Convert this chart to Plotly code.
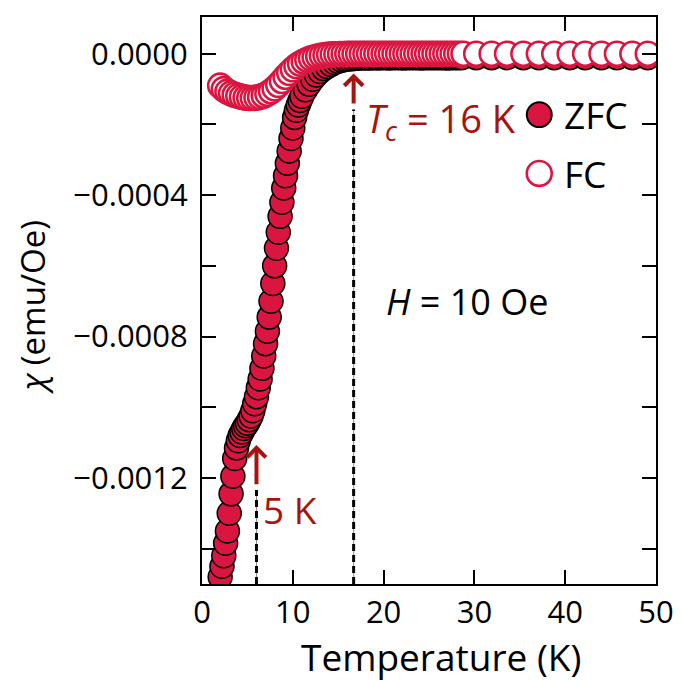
import plotly.graph_objects as go

# ---------------- data ----------------
zfc_T = [2.0, 2.2, 2.4, 2.6, 2.8, 3.0, 3.2, 3.4, 3.6, 3.8,
         4.0, 4.2, 4.4, 4.6, 4.8, 5.0, 5.2, 5.4, 5.6, 5.8,
         6.0, 6.2, 6.4, 6.6, 6.8, 7.0, 7.2, 7.4, 7.6, 7.8,
         8.0, 8.2, 8.4, 8.6, 8.8, 9.0, 9.2, 9.4, 9.6, 9.8,
         10.0, 10.2, 10.4, 10.6, 10.8, 11.0,
         11.4, 11.8, 12.2, 12.6, 13.0, 13.4, 13.8, 14.2, 14.6, 15.0,
         15.4, 15.8, 16.2, 16.6, 17.0, 17.4, 17.8, 18.2, 18.6, 19.0,
         19.4, 19.8, 20.2, 20.6, 21.0, 21.4, 21.8, 22.2, 22.6, 23.0,
         23.4, 23.8, 24.2, 24.6, 25.0, 25.4, 25.8, 26.2, 26.6, 27.0,
         27.4, 27.8, 28.2, 28.6,
         30.2, 31.9, 33.6, 35.4, 37.1, 38.8, 40.5, 42.2, 44.0, 45.7, 47.4, 49.1]

zfc_chi = [-14.8e-4, -14.5e-4, -14.2e-4, -13.85e-4, -13.5e-4, -13.0e-4, -12.45e-4, -11.95e-4, -11.45e-4, -11.15e-4,
           -10.95e-4, -10.8e-4, -10.7e-4, -10.6e-4, -10.52e-4, -10.45e-4, -10.35e-4, -10.25e-4, -10.1e-4, -9.9e-4,
           -9.7e-4, -9.45e-4, -9.2e-4, -8.9e-4, -8.55e-4, -8.2e-4, -7.85e-4, -7.45e-4, -7.0e-4, -6.5e-4,
           -6.0e-4, -5.5e-4, -5.05e-4, -4.6e-4, -4.2e-4, -3.8e-4, -3.45e-4, -3.1e-4, -2.75e-4, -2.4e-4,
           -2.1e-4, -1.8e-4, -1.6e-4, -1.45e-4, -1.32e-4, -1.2e-4,
           -1.02e-4, -0.86e-4, -0.72e-4, -0.6e-4, -0.5e-4, -0.42e-4, -0.36e-4, -0.3e-4, -0.25e-4, -0.21e-4,
           -0.18e-4, -0.16e-4, -0.15e-4, -0.14e-4, -0.13e-4, -0.12e-4, -0.12e-4, -0.12e-4, -0.12e-4, -0.11e-4,
           -0.12e-4, -0.11e-4, -0.11e-4, -0.12e-4, -0.11e-4, -0.11e-4, -0.11e-4, -0.12e-4, -0.11e-4, -0.11e-4,
           -0.11e-4, -0.11e-4, -0.12e-4, -0.11e-4, -0.11e-4, -0.11e-4, -0.11e-4, -0.11e-4, -0.11e-4, -0.12e-4,
           -0.11e-4, -0.11e-4, -0.11e-4, -0.11e-4,
           -0.11e-4, -0.11e-4, -0.11e-4, -0.11e-4, -0.11e-4, -0.11e-4, -0.11e-4, -0.11e-4, -0.11e-4, -0.11e-4, -0.11e-4, -0.11e-4]

fc_T = [2.0, 2.4, 2.8, 3.2, 3.6, 4.0, 4.4, 4.8, 5.2, 5.6,
        6.0, 6.4, 6.8, 7.2, 7.6, 8.0, 8.4, 8.8, 9.2, 9.6,
        10.0, 10.4, 10.8, 11.2, 11.6, 12.0, 12.4, 12.8, 13.2, 13.6,
        14.0, 14.4, 14.8, 15.2, 15.6, 16.0, 16.4, 16.8, 17.2, 17.6,
        18.0, 18.4, 18.8, 19.2, 19.6, 20.0, 20.4, 20.8, 21.2, 21.6,
        22.0, 22.4, 22.8, 23.2, 23.6, 24.0, 24.4, 24.8, 25.2, 25.6,
        26.0, 26.4, 26.8, 27.2, 27.6, 28.0, 28.4, 28.8,
        30.2, 31.9, 33.6, 35.4, 37.1, 38.8, 40.5, 42.2, 44.0, 45.7, 47.4, 49.1]

fc_chi = [-0.9e-4, -1.0e-4, -1.07e-4, -1.12e-4, -1.16e-4, -1.19e-4, -1.22e-4, -1.24e-4, -1.25e-4, -1.25e-4,
          -1.24e-4, -1.22e-4, -1.18e-4, -1.13e-4, -1.06e-4, -0.98e-4, -0.88e-4, -0.77e-4, -0.65e-4, -0.54e-4,
          -0.44e-4, -0.35e-4, -0.28e-4, -0.22e-4, -0.17e-4, -0.13e-4, -0.10e-4, -0.07e-4, -0.05e-4, -0.035e-4,
          -0.025e-4, -0.018e-4, -0.012e-4, -0.008e-4, -0.005e-4, -0.003e-4, -0.002e-4, -0.001e-4, 0.0, 0.0,
          0.0, 0.0, 0.0, 0.0, 0.0, 0.0, 0.0, 0.0, 0.0, 0.0,
          0.0, 0.0, 0.0, 0.0, 0.0, 0.0, 0.0, 0.0, 0.0, 0.0,
          0.0, 0.0, 0.0, 0.0, 0.0, 0.0, 0.0, 0.0,
          0.0, 0.0, 0.0, 0.0, 0.0, 0.0, 0.0, 0.0, 0.0, 0.0, 0.0, 0.0]

x_tickvals = [0, 10, 20, 30, 40, 50]
x_ticktext = ["0", "10", "20", "30", "40", "50"]
y_tickvals = [0.0, -0.0002, -0.0004, -0.0006, -0.0008, -0.0010, -0.0012, -0.0014]
y_ticktext = ["0.0000", " ", "\u22120.0004", " ", "\u22120.0008", " ", "\u22120.0012", " "]

T_low = 6.0      # position of "5 K" marker line
T_c = 16.7       # position of Tc marker line

# ---------------- style ----------------
RED = "#DA1640"
DARKRED = "#A5140E"
FONT = "Open Sans"

fig = go.Figure()

fig.add_trace(go.Scatter(
    x=zfc_T, y=zfc_chi, mode="markers", name="ZFC",
    marker=dict(size=24, color=RED, line=dict(color="black", width=1.5)),
    showlegend=False))
fig.add_trace(go.Scatter(
    x=fc_T, y=fc_chi, mode="markers", name="FC",
    marker=dict(size=24, color="white", line=dict(color=RED, width=2.6)),
    showlegend=False))

YMIN, YMAX = -0.0015, 0.000104

# dashed guide lines (grey thin + black dashes)
for xv, ytop in [(T_low, -1.234e-3), (T_c, -0.158e-3)]:
    fig.add_shape(type="line", x0=xv, x1=xv, y0=YMIN, y1=ytop, xref="x", yref="y",
                  line=dict(color="#8a8a8a", width=1))
    fig.add_shape(type="line", x0=xv, x1=xv, y0=YMIN, y1=ytop, xref="x", yref="y",
                  line=dict(color="black", width=3, dash="7px,4px"))

# arrows
fig.add_annotation(x=T_low, y=-1.107e-3, ax=T_low, ay=-1.222e-3, xref="x", yref="y",
                   axref="x", ayref="y", text="", showarrow=True, arrowhead=4,
                   arrowsize=0.9, arrowwidth=4, arrowcolor=DARKRED)
fig.add_annotation(x=T_c, y=-0.056e-3, ax=T_c, ay=-0.145e-3, xref="x", yref="y",
                   axref="x", ayref="y", text="", showarrow=True, arrowhead=4,
                   arrowsize=0.9, arrowwidth=4, arrowcolor=DARKRED)

# text labels
fig.add_annotation(x=17.8, y=-0.19e-3, xref="x", yref="y", xanchor="left", yanchor="middle",
                   text="<i>T</i><sub><i>c</i></sub> = 16 K", showarrow=False,
                   font=dict(family=FONT, size=38, color=DARKRED))
fig.add_annotation(x=6.5, y=-1.29e-3, xref="x", yref="y", xanchor="left", yanchor="middle",
                   text="5 K", showarrow=False,
                   font=dict(family=FONT, size=37, color=DARKRED))
fig.add_annotation(x=20.0, y=-0.70e-3, xref="x", yref="y", xanchor="left", yanchor="middle",
                   text="<i>H</i> = 10 Oe", showarrow=False,
                   font=dict(family=FONT, size=36, color="black"))

# legend (drawn manually to get large symbols); plot area spans screen px 202..657 x 15..584
def px2paper_x(px):
    return (px - 202) / 455.0

def px2paper_y(py):
    return (584 - py) / 569.0

r = 12.5
for cy, fill, lc, lw in [(113, RED, "black", 2), (172, "white", RED, 2.6)]:
    fig.add_shape(type="circle", xref="paper", yref="paper",
                  x0=px2paper_x(540 - r), x1=px2paper_x(540 + r),
                  y0=px2paper_y(cy + r), y1=px2paper_y(cy - r),
                  fillcolor=fill, line=dict(color=lc, width=lw))
fig.add_annotation(x=px2paper_x(563), y=px2paper_y(113), xref="paper", yref="paper",
                   xanchor="left", yanchor="middle", text="ZFC", showarrow=False,
                   font=dict(family=FONT, size=37, color="black"))
fig.add_annotation(x=px2paper_x(563), y=px2paper_y(172), xref="paper", yref="paper",
                   xanchor="left", yanchor="middle", text="FC", showarrow=False,
                   font=dict(family=FONT, size=37, color="black"))

# axis titles
fig.add_annotation(x=px2paper_x(442), y=px2paper_y(657), xref="paper", yref="paper",
                   xanchor="center", yanchor="middle", text="Temperature (K)", showarrow=False,
                   font=dict(family=FONT, size=37, color="black"))
fig.add_annotation(x=px2paper_x(33), y=px2paper_y(306), xref="paper", yref="paper",
                   xanchor="center", yanchor="middle", text="<i>χ</i> (emu/Oe)", showarrow=False,
                   textangle=-90, font=dict(family=FONT, size=33, color="black"))

axis_common = dict(showline=True, linecolor="black", linewidth=2, mirror="ticks",
                   ticks="inside", ticklen=14, tickwidth=1.6, tickcolor="black",
                   showgrid=False, zeroline=False,
                   tickfont=dict(family=FONT, size=31, color="black"))

fig.update_xaxes(range=[0, 50], tickmode="array", tickvals=x_tickvals, ticktext=x_ticktext,
                 **axis_common)
fig.update_yaxes(range=[YMIN, YMAX], tickmode="array", tickvals=y_tickvals, ticktext=y_ticktext,
                 ticklabelstandoff=6, **axis_common)

# the page adds an 8px body margin, so the figure is 673px and margins are offset accordingly
fig.update_layout(width=673, height=673, autosize=False,
                  margin=dict(l=194, r=24, t=7, b=97),
                  plot_bgcolor="white", paper_bgcolor="white",
                  font=dict(family=FONT))

fig.write_html("out.html")
